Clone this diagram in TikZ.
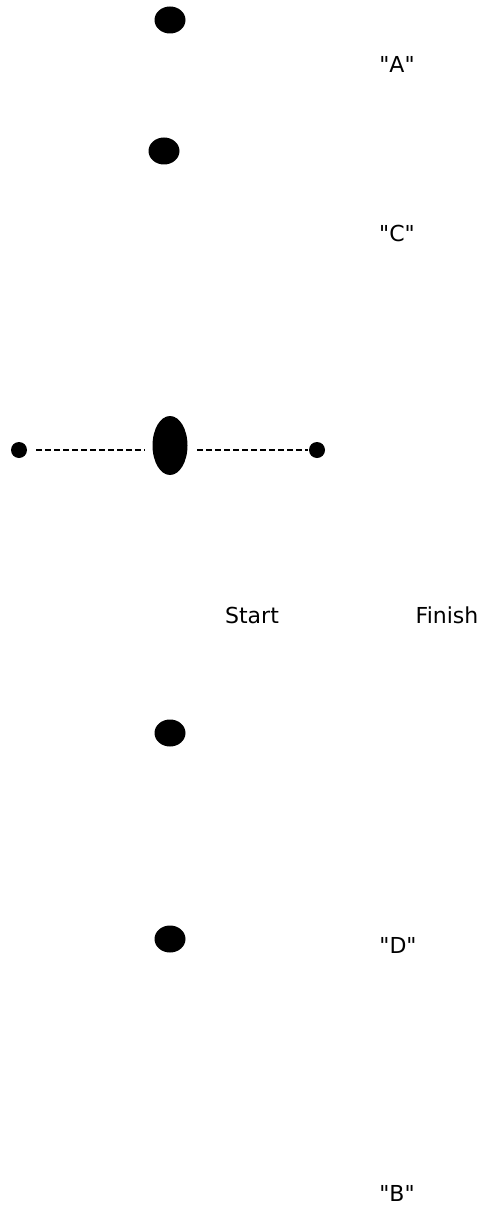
\documentclass[tikz,border=0pt]{standalone}
\usepackage{fontspec}
\newfontfamily\labelfont{DejaVu Sans}
\usetikzlibrary{positioning,shapes.geometric}

\begin{document}
\begin{tikzpicture}[
  x=1pt, y=-1pt,
  blob/.style={ellipse, fill=black, inner sep=0pt, minimum width=31pt, minimum height=27pt},
  bigblob/.style={blob, minimum width=35pt, minimum height=59pt},
  pin/.style={circle, fill=black, inner sep=0pt, minimum size=16pt},
  lbl/.style={inner sep=0pt, font=\labelfont\fontsize{22}{26}\selectfont},
  track/.style={dash pattern=on 6pt off 3pt, line width=2pt}
]
  \useasboundingbox (0,0) rectangle (486,1209);

  \node[blob] (dotA) at (170,20) {};
  \node[blob] (dotC) at (164,151) {};
  \node[bigblob] (mid) at (170,445.5) {};
  \node[pin] (lpin) at (19,450) {};
  \node[pin] (rpin) at (317,450) {};
  \node[blob] (dotS) at (170,733) {};
  \node[blob] (dotD) at (170,939) {};

  \node[lbl] (labA) at (397,64) {"A"};
  \node[lbl] (labC) at (397,233) {"C"};
  \node[lbl] (start) at (252,615) {Start};
  \node[lbl] (finish) at (447,615) {Finish};
  \node[lbl] (labD) at (398,945) {"D"};
  \node[lbl] (labB) at (397,1193) {"B"};

  \draw[track, shorten <=9pt, shorten >=7.5pt] (lpin) -- (lpin -| mid.west);
  \draw[track, shorten <=9.5pt, shorten >=1pt] (mid.east |- rpin) -- (rpin);
\end{tikzpicture}
\end{document}
